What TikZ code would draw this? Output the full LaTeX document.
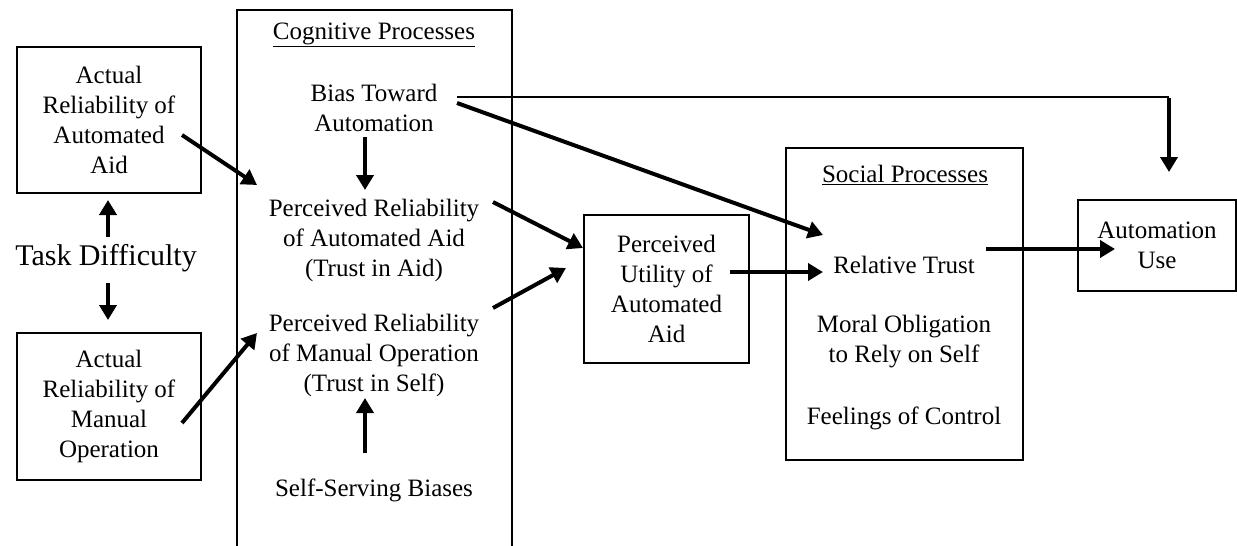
\documentclass[tikz,border=0pt]{standalone}
\usepackage{fontspec}
\setmainfont{Liberation Serif}
\usetikzlibrary{arrows.meta,calc}

\tikzset{
  box/.style={draw, line width=1.4pt, align=center, inner sep=0pt},
  txt/.style={align=center, inner sep=0pt},
  body/.style={font=\fontsize{25}{30}\selectfont},
  big/.style={font=\fontsize{30}{36}\selectfont},
  arr/.style={line width=4pt, -{Triangle[length=15pt,width=17pt]}},
  thin/.style={line width=1.4pt}
}

\begin{document}
\begin{tikzpicture}[x=1pt, y=-1pt, body]
\useasboundingbox (0,0) rectangle (1237,546);
\fill[white] (0,0) rectangle (1237,546);

% left column: actual reliabilities and task difficulty
\node[box, minimum width=184pt, minimum height=146pt] (ara) at (109,120)
  {Actual\\Reliability of\\Automated\\Aid};
\node[box, minimum width=184pt, minimum height=147pt] (arm) at (109,406.5)
  {Actual\\Reliability of\\Manual\\Operation};
\node[txt, big] (task) at (106,258) {Task Difficulty};

% cognitive processes panel (runs off the bottom edge)
\node[draw, line width=1.4pt, minimum width=275pt, minimum height=560pt,
      inner sep=0pt] (cog) at (374.5,290) {};
\node[txt] (cogt) at (374,35) {\underline{Cognitive Processes}};
\node[txt] (bias) at (374,108) {Bias Toward\\Automation};
\node[txt] (pra) at (374,240) {Perceived Reliability\\of Automated Aid\\(Trust in Aid)};
\node[txt] (prm) at (374,355) {Perceived Reliability\\of Manual Operation\\(Trust in Self)};
\node[txt] (ssb) at (374,490) {Self-Serving Biases};

% perceived utility
\node[box, minimum width=165pt, minimum height=148pt] (util) at (666.5,289)
  {Perceived\\Utility of\\Automated\\Aid};

% social processes panel
\node[box, minimum width=237pt, minimum height=312pt] (soc) at (904.5,304) {};
\node[txt] (soct) at (905,175) {\underline{Social Processes}};
\node[txt] (rel) at (904,265) {Relative Trust};
\node[txt] (moral) at (904,342) {Moral Obligation\\to Rely on Self};
\node[txt] (feel) at (904,418) {Feelings of Control};

% outcome
\node[box, minimum width=158pt, minimum height=91pt] (use) at (1157,245.5)
  {Automation\\Use};

% connectors
\draw[arr] ($(task.center)+(2,-21)$) -- ($(ara.center)+(-1,80)$);
\draw[arr] ($(task.center)+(2,25)$) -- ($(arm.center)+(-1,-86.5)$);
\draw[arr] ($(ara.center)+(73,15)$) -- ($(pra.center)+(-117,-55)$);
\draw[arr] ($(arm.center)+(73,16.5)$) -- ($(prm.center)+(-117,-22)$);
\draw[arr] ($(bias.center)+(-9,29)$) -- ($(pra.center)+(-9,-50)$);
\draw[arr] ($(ssb.center)+(-9,-37)$) -- ($(prm.center)+(-9,43)$);
\draw[arr] ($(pra.center)+(119,-38)$) -- ($(util.center)+(-83.5,-41)$);
\draw[arr] ($(prm.center)+(119,-47)$) -- ($(util.center)+(-100.5,-21)$);
\draw[arr] ($(bias.center)+(83,-5)$) -- ($(rel.center)+(-81,-30)$);
\draw[arr] ($(util.center)+(63.5,-17)$) -- ($(rel.center)+(-81,7)$);
\draw[arr] ($(rel.center)+(82,-16)$) -- ($(use.center)+(-42,3.5)$);

% bias toward automation feeds straight into automation use
\coordinate (corner) at ($(use.center)+(12,-148.5)$);
\draw[thin] ($(bias.center)+(83,-11)$) -- (corner);
\draw[arr] ([yshift=-0.7pt]corner) -- ($(use.center)+(12,-73.5)$);
\end{tikzpicture}
\end{document}
